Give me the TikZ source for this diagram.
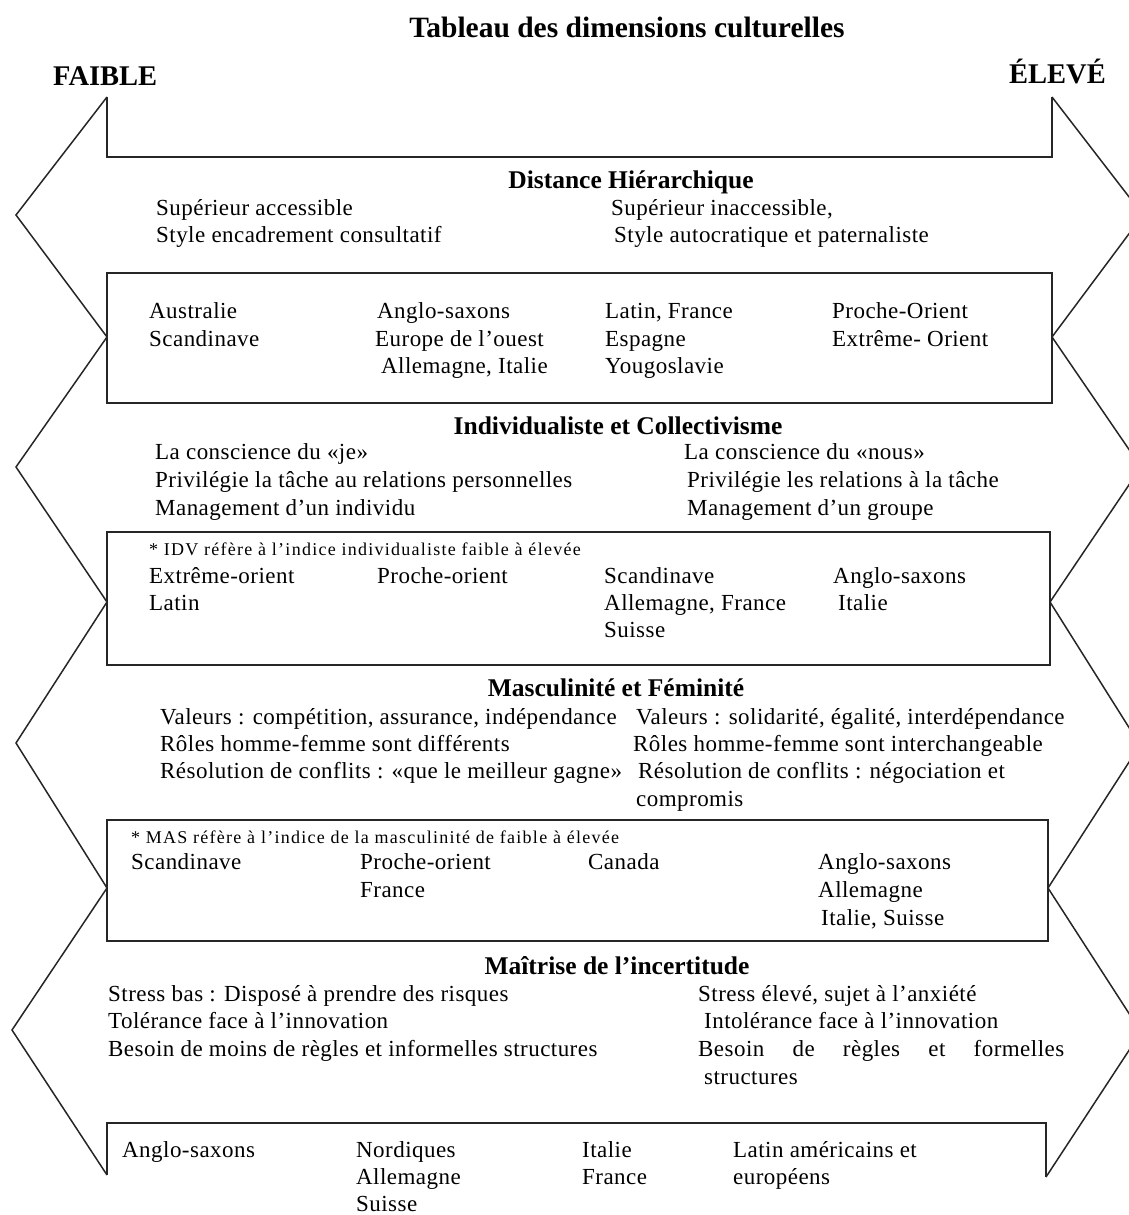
\documentclass[tikz,border=0pt]{standalone}
\usepackage{fontspec}
\setmainfont{Liberation Serif}
\newfontfamily\bodyfont[LetterSpace=2]{Liberation Serif}
\newfontfamily\notefont[LetterSpace=7]{Liberation Serif}

\begin{document}
\begin{tikzpicture}[x=1pt,y=-1pt,
  outline/.style={line width=1.5pt, draw=black!85, line join=miter},
  boxline/.style={line width=1.8pt, draw=black!85},
  txt/.style={anchor=base west, inner sep=0pt, font=\bodyfont\fontsize{23}{27}\selectfont},
  note/.style={anchor=base west, inner sep=0pt, font=\notefont\fontsize{18}{21}\selectfont},
  head/.style={anchor=base, inner sep=0pt, font=\bfseries\fontsize{25.5}{30}\selectfont},
  pole/.style={anchor=base west, inner sep=0pt, font=\bfseries\fontsize{28.5}{34}\selectfont},
  titre/.style={anchor=base, inner sep=0pt, font=\bfseries\fontsize{29.5}{35}\selectfont}]
\useasboundingbox (0,0) rectangle (1129,1215);
\clip (0,0) rectangle (1129,1215);

% ---- outline: interlocking double arrows ----
\draw[outline] (107,97) -- (16,215) -- (107,337) -- (16,467) -- (107,602)
  -- (16,743) -- (107,888) -- (12,1030) -- (107,1175);
\draw[outline] (1052,97) -- (1143,215) -- (1052,337) -- (1141,467) -- (1050,602)
  -- (1140,745) -- (1048,888) -- (1141,1032) -- (1046,1177);
\draw[outline] (107,97) -- (107,157) -- (1052,157) -- (1052,97);
\draw[boxline] (107,273) rectangle (1052,403);
\draw[boxline] (107,532) rectangle (1050,665);
\draw[boxline] (107,820) rectangle (1048,941);
\draw[boxline] (107,1175) -- (107,1123) -- (1046,1123) -- (1046,1177);

% ---- titles ----
\node[titre] (title) at (627,38) {Tableau des dimensions culturelles};
\node[pole] (faible) at (53,85) {FAIBLE};
\node[pole] (eleve) at (1009,84) {ÉLEVÉ};

% ---- Distance hiérarchique ----
\node[head] (h1) at (631,188) {Distance Hiérarchique};
\node[txt] (a1) at (156,215) {Supérieur accessible};
\node[txt] (a2) at (156,242) {Style encadrement consultatif};
\node[txt] (b1) at (611,215) {Supérieur inaccessible,};
\node[txt] (b2) at (614,242) {Style autocratique et paternaliste};
\node[txt] (c11) at (149,318) {Australie};
\node[txt] (c12) at (149,346) {Scandinave};
\node[txt] (c21) at (377,318) {Anglo-saxons};
\node[txt] (c22) at (375,346) {Europe de l’ouest};
\node[txt] (c23) at (381,373) {Allemagne, Italie};
\node[txt] (c31) at (605,318) {Latin, France};
\node[txt] (c32) at (605,346) {Espagne};
\node[txt] (c33) at (605,373) {Yougoslavie};
\node[txt] (c41) at (832,318) {Proche-Orient};
\node[txt] (c42) at (832,346) {Extrême- Orient};

% ---- Individualisme ----
\node[head] (h2) at (618,434) {Individualiste et Collectivisme};
\node[txt] (d1) at (155,459) {La conscience du «je»};
\node[txt] (d2) at (155,487) {Privilégie la tâche au relations personnelles};
\node[txt] (d3) at (155,515) {Management d’un individu};
\node[txt] (e1) at (684,459) {La conscience du «nous»};
\node[txt] (e2) at (687,487) {Privilégie les relations à la tâche};
\node[txt] (e3) at (687,515) {Management d’un groupe};
\node[note] (n2) at (149,555) {* IDV réfère à l’indice individualiste faible à élevée};
\node[txt] (f11) at (149,583) {Extrême-orient};
\node[txt] (f12) at (149,610) {Latin};
\node[txt] (f21) at (377,583) {Proche-orient};
\node[txt] (f31) at (604,583) {Scandinave};
\node[txt] (f32) at (604,610) {Allemagne, France};
\node[txt] (f33) at (604,637) {Suisse};
\node[txt] (f41) at (833,583) {Anglo-saxons};
\node[txt] (f42) at (838,610) {Italie};

% ---- Masculinité ----
\node[head] (h3) at (616,696) {Masculinité et Féminité};
\node[txt] (g1) at (160,724) {Valeurs : compétition, assurance, indépendance};
\node[txt] (g2) at (160,751) {Rôles homme-femme sont différents};
\node[txt] (g3) at (160,778) {Résolution de conflits : «que le meilleur gagne»};
\node[txt] (k1) at (636,724) {Valeurs : solidarité, égalité, interdépendance};
\node[txt] (k2) at (633,751) {Rôles homme-femme sont interchangeable};
\node[txt] (k3) at (638,778) {Résolution de conflits : négociation et};
\node[txt] (k4) at (636,806) {compromis};
\node[note] (n3) at (131,843) {* MAS réfère à l’indice de la masculinité de faible à élevée};
\node[txt] (m11) at (131,869) {Scandinave};
\node[txt] (m21) at (360,869) {Proche-orient};
\node[txt] (m22) at (360,897) {France};
\node[txt] (m31) at (588,869) {Canada};
\node[txt] (m41) at (818,869) {Anglo-saxons};
\node[txt] (m42) at (818,897) {Allemagne};
\node[txt] (m43) at (821,925) {Italie, Suisse};

% ---- Incertitude ----
\node[head] (h4) at (617,974) {Maîtrise de l’incertitude};
\node[txt] (p1) at (108,1001) {Stress bas : Disposé à prendre des risques};
\node[txt] (p2) at (108,1028) {Tolérance face à l’innovation};
\node[txt] (p3) at (108,1056) {Besoin de moins de règles et informelles structures};
\node[txt] (q1) at (698,1001) {Stress élevé, sujet à l’anxiété};
\node[txt] (q2) at (704,1028) {Intolérance face à l’innovation};
\node[txt] (q3) at (698,1056) {\makebox[366pt][s]{Besoin de règles et formelles}};
\node[txt] (q4) at (704,1084) {structures};
\node[txt] (r11) at (122,1157) {Anglo-saxons};
\node[txt] (r21) at (356,1157) {Nordiques};
\node[txt] (r22) at (356,1184) {Allemagne};
\node[txt] (r23) at (356,1211) {Suisse};
\node[txt] (r31) at (582,1157) {Italie};
\node[txt] (r32) at (582,1184) {France};
\node[txt] (r41) at (733,1157) {Latin américains et};
\node[txt] (r42) at (733,1184) {européens};
\end{tikzpicture}
\end{document}
